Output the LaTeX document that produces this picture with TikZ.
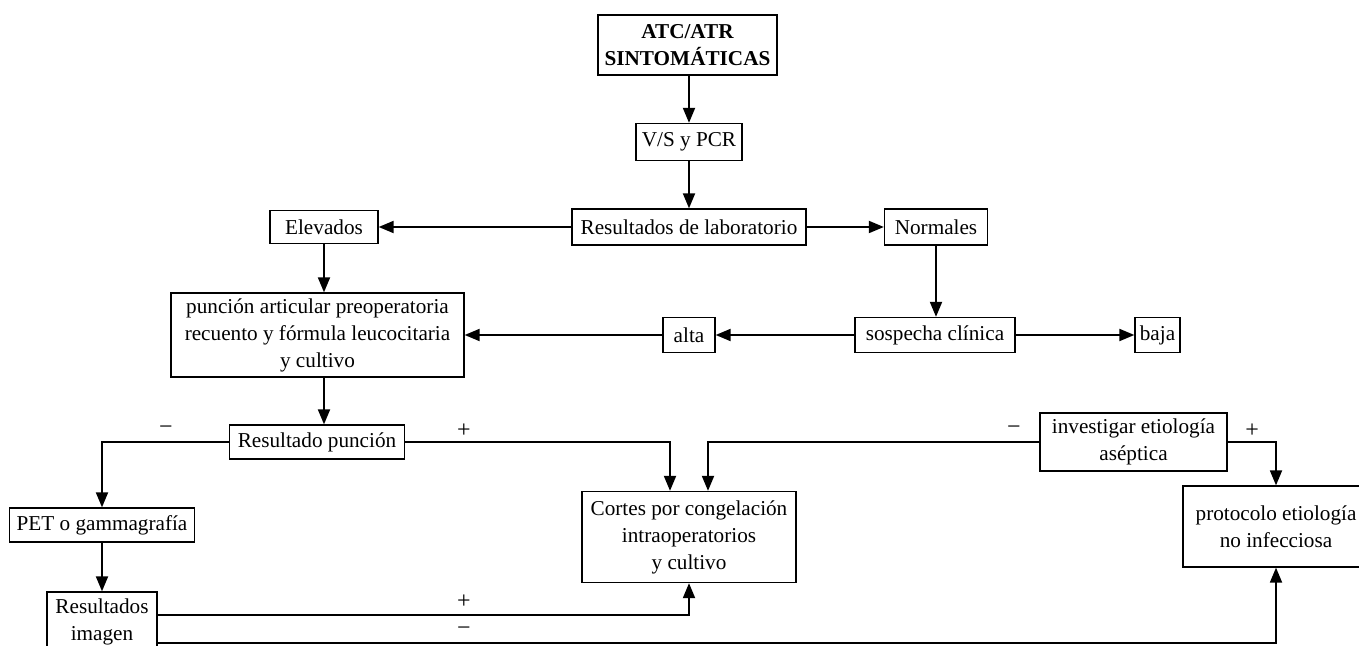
\documentclass[tikz,border=0pt]{standalone}
\usepackage{fontspec}
\setmainfont{Liberation Serif}
\usetikzlibrary{arrows.meta, positioning}

\begin{document}
\begin{tikzpicture}[
    x=0.5pt, y=-0.5pt,
    box/.style={rectangle, draw=black, line width=0.65pt, align=center, inner sep=2pt, font=\fontsize{10.6}{13.5}\selectfont},
    arrow/.style={-{Triangle[length=7.5pt, width=6pt]}, line width=0.95pt},
    sign/.style={font=\fontsize{12}{13.5}\selectfont, inner sep=0pt}
]
\useasboundingbox (0,0) rectangle (1359,646);

% Top: screening
\node (atc) [box, minimum width=89.5pt, minimum height=30pt, font=\fontsize{10.6}{13.5}\selectfont\bfseries] at (687.5,45) {ATC/ATR\\SINTOMÁTICAS};
\node (vs) [box, minimum width=53pt, minimum height=18.5pt] at (689,142) {V/S y PCR};
\node (lab) [box, minimum width=117pt, minimum height=18pt] at (689,227) {Resultados de laboratorio};
\node (elev) [box, minimum width=54pt, minimum height=16.5pt] at (324,227) {Elevados};
\node (norm) [box, minimum width=51.5pt, minimum height=18pt] at (936,227) {Normales};

% Row 2: puncion and clinical suspicion
\node (punc) [box, minimum width=146.5pt, minimum height=42pt] at (317.5,335) {punción articular preoperatoria\\recuento y fórmula leucocitaria\\y cultivo};
\node (alta) [box, minimum width=26pt, minimum height=17.5pt] at (689,335) {alta};
\node (sosp) [box, minimum width=80pt, minimum height=17.5pt] at (935,335) {sospecha clínica};
\node (baja) [box, minimum width=22.5pt, minimum height=17.5pt] at (1157.5,335) {baja};

% Row 3: results
\node (rpunc) [box, minimum width=87.5pt, minimum height=17pt] at (317,442) {Resultado punción};
\node (inv) [box, minimum width=93.5pt, minimum height=29pt] at (1133.5,442) {investigar etiología\\aséptica};
\node (pet) [box, minimum width=92.5pt, minimum height=17pt] at (102,525) {PET o gammagrafía};
\node (cortes) [box, minimum width=107pt, minimum height=45.5pt] at (689,537) {Cortes por congelación\\intraoperatorios\\y cultivo};
\node (prot) [box, minimum width=93pt, minimum height=40.5pt] at (1276,526.5) {protocolo etiología\\no infecciosa};
\node (rimg) [box, minimum width=55pt, minimum height=30pt] at (102,622) {Resultados\\imagen};

% Arrows: top
\draw [arrow] (atc.south -| vs) -- (vs);
\draw [arrow] (vs) -- (lab);
\draw [arrow] (lab) -- (elev);
\draw [arrow] (lab) -- (norm);

% Arrows: row 2
\draw [arrow] (elev) -- (elev |- punc.north);
\draw [arrow] (norm) -- (norm |- sosp.north);
\draw [arrow] (sosp) -- (alta);
\draw [arrow] (alta.west) -- (alta.west -| punc.east);
\draw [arrow] (sosp) -- (baja);
\draw [arrow] (punc.south -| elev) -- (rpunc.north -| elev);

% Arrows: row 3
\draw [arrow] (rpunc.west) -| (pet.north);
\draw [arrow] (rpunc.east) -| ([xshift=-9.5pt]cortes.north);
\draw [arrow] (inv.west) -| ([xshift=9.5pt]cortes.north);
\draw [arrow] (inv.east) -| (prot.north);
\draw [arrow] (pet) -- (rimg);
\draw [arrow] ([yshift=3.5pt]rimg.east) -| (cortes.south);
\draw [arrow] ([yshift=-10.5pt]rimg.east) -| (prot.south);

% Signs
\node (m1) [sign] at (166,430) {−};
\node (p1) [sign] at (464,431) {+};
\node (m2) [sign] at (1014,430) {−};
\node (p2) [sign] at (1252,431) {+};
\node (p3) [sign] at (464,602) {+};
\node (m3) [sign] at (464,631) {−};
\end{tikzpicture}
\end{document}
